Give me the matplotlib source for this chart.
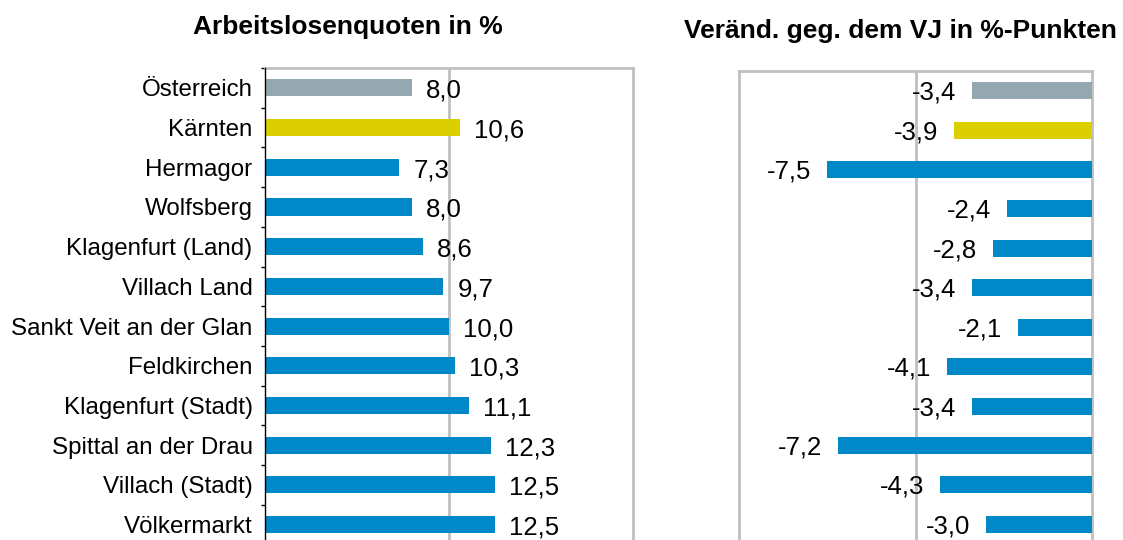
import matplotlib
matplotlib.use("Agg")
import matplotlib.pyplot as plt

plt.rcParams['font.family'] = ['Liberation Sans', 'DejaVu Sans']

categories = ["Österreich", "Kärnten", "Hermagor", "Wolfsberg", "Klagenfurt (Land)",
              "Villach Land", "Sankt Veit an der Glan", "Feldkirchen", "Klagenfurt (Stadt)",
              "Spittal an der Drau", "Villach (Stadt)", "Völkermarkt"]
quote = [8.0, 10.6, 7.3, 8.0, 8.6, 9.7, 10.0, 10.3, 11.1, 12.3, 12.5, 12.5]
veraenderung = [-3.4, -3.9, -7.5, -2.4, -2.8, -3.4, -2.1, -4.1, -3.4, -7.2, -4.3, -3.0]
title_left = "Arbeitslosenquoten in %"
title_right = "Veränd. geg. dem VJ in %-Punkten"

c_grey = "#95A7B0"
c_yellow = "#DCCF00"
c_blue = "#0088C8"
colors = [c_grey, c_yellow] + [c_blue] * (len(categories) - 2)
grid_c = "#C0C0C0"

W, H = 1123, 540
fig = plt.figure(figsize=(W / 100, H / 100), dpi=100)

def fx(px):
    return px / W

def fy(top, bottom):
    return (H - bottom) / H, (bottom - top) / H

b1, h1 = fy(68, 544.5)
ax1 = fig.add_axes([fx(265), b1, fx(633) - fx(265), h1])
b2, h2 = fy(71, 544)
ax2 = fig.add_axes([fx(739), b2, fx(1092) - fx(739), h2])

n = len(categories)
ypos = list(range(n))
fs_cat = 17.4
fs_val = 18.5
fs_title = 19

# left panel
ax1.barh(ypos, quote, height=0.43, color=colors, zorder=3)
ax1.set_xlim(0, 20)
ax1.set_ylim(n - 0.5, -0.5)
ax1.set_yticks(ypos)
ax1.set_yticklabels(categories, fontsize=fs_cat)
ax1.set_yticks([i + 0.5 for i in range(-1, n)], minor=True)
ax1.tick_params(axis='y', which='major', length=0, pad=9)
ax1.tick_params(axis='y', which='minor', length=3, width=1, color='black', direction='out')
ax1.set_xticks([])
ax1.axvline(10, color=grid_c, lw=2, zorder=1)
for s in ['top', 'right', 'bottom']:
    ax1.spines[s].set_color(grid_c)
    ax1.spines[s].set_linewidth(2)
ax1.spines['left'].set_color('black')
ax1.spines['left'].set_linewidth(1)
ax1.spines['left'].set_zorder(4)
for y, v in zip(ypos, quote):
    ax1.annotate(f"{v:.1f}".replace('.', ','), (v, y), xytext=(14, -3),
                 textcoords='offset pixels', ha='left', va='center', fontsize=fs_val)
fig.text(fx(348), 1 - 27 / H, title_left, ha='center', va='center',
         fontsize=fs_title, fontweight='bold')

# right panel
ax2.barh(ypos, veraenderung, height=0.43, color=colors, zorder=3)
ax2.set_xlim(-10, 0)
ax2.set_ylim(n - 0.5, -0.5)
ax2.set_yticks([])
ax2.set_xticks([])
ax2.axvline(-5, color=grid_c, lw=2, zorder=1)
for s in ['top', 'right', 'bottom', 'left']:
    ax2.spines[s].set_color(grid_c)
    ax2.spines[s].set_linewidth(2)
for y, v in zip(ypos, veraenderung):
    ax2.annotate(f"{v:.1f}".replace('.', ','), (v, y), xytext=(-16, -2),
                 textcoords='offset pixels', ha='right', va='center', fontsize=fs_val)
fig.text(fx(900), 1 - 31 / H, title_right, ha='center', va='center',
         fontsize=fs_title, fontweight='bold')

fig.savefig("out.png", dpi=100)
